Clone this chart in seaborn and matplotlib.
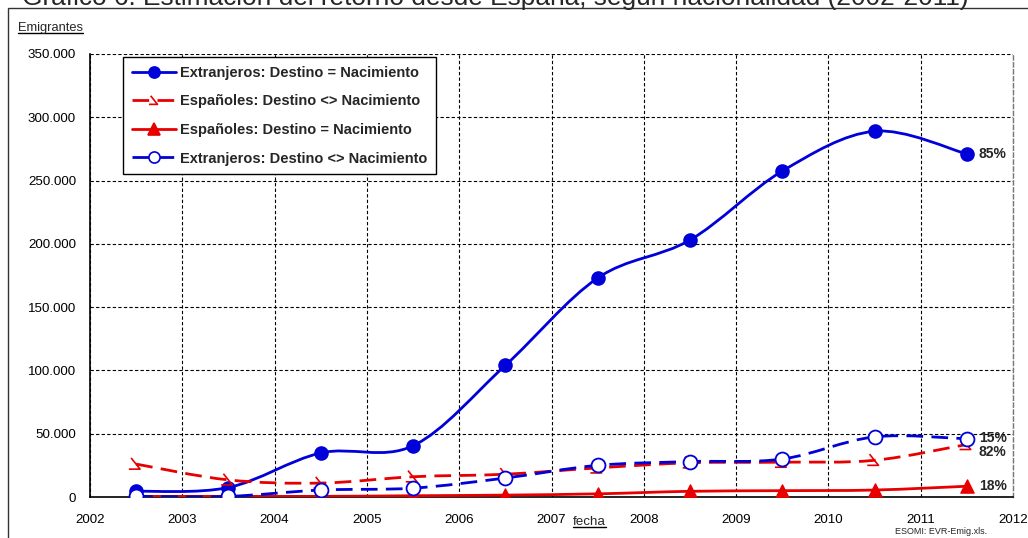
import numpy as np
import pandas as pd
import matplotlib
matplotlib.use("Agg")
import matplotlib.pyplot as plt
from matplotlib.path import Path
from matplotlib.patches import PathPatch, Rectangle
from matplotlib.lines import Line2D
from matplotlib.ticker import FuncFormatter
import seaborn as sns

# data (mid-year points)
years = [2002.5, 2003.5, 2004.5, 2005.5, 2006.5, 2007.5, 2008.5, 2009.5, 2010.5, 2011.5]
ext_igual = [4500, 7500, 34800, 40500, 104000, 173000, 203000, 257500, 289000, 271000]
esp_distinto = [26000, 13500, 11000, 16000, 18000, 23000, 27000, 27500, 29000, 41500]
esp_igual = [500, 500, 500, 1000, 1500, 2500, 4500, 5000, 5500, 8500]
ext_distinto = [500, 500, 5500, 7000, 15000, 25000, 28000, 30000, 47500, 46000]

labels = ["Extranjeros: Destino = Nacimiento",
          "Españoles: Destino <> Nacimiento",
          "Españoles: Destino = Nacimiento",
          "Extranjeros: Destino <> Nacimiento"]
end_labels = ["85%", "82%", "18%", "15%"]

blue = "#0000d8"
red = "#e80000"

sns.set_style("white")
plt.rcParams["font.family"] = ["Liberation Sans", "DejaVu Sans"]

W, H = 1028, 538
fig = plt.figure(figsize=(W / 100, H / 100), dpi=100)
fig.patches.append(Rectangle((8 / W, -0.1), 1.2, 1.1 - 9 / H + 0.001, transform=fig.transFigure,
                             fill=False, edgecolor="#333333", linewidth=1.0))
ax = fig.add_axes([90 / W, 1 - 497 / H, (1013 - 90) / W, (497 - 54) / H])


def smooth_path(xs, ys):
    # excel-like smoothed line: bezier segments, tension 1/6
    pts = np.column_stack([xs, ys]).astype(float)
    ext = np.vstack([pts[0], pts, pts[-1]])
    verts = [pts[0]]
    codes = [Path.MOVETO]
    for i in range(1, len(ext) - 2):
        p0, p1, p2, p3 = ext[i - 1], ext[i], ext[i + 1], ext[i + 2]
        verts += [p1 + (p2 - p0) / 6, p2 - (p3 - p1) / 6, p2]
        codes += [Path.CURVE4] * 3
    return Path(verts, codes)


tri_open = Path([(-0.45, 0.55), (0.35, -0.45), (-0.65, -0.45)], [Path.MOVETO, Path.LINETO, Path.LINETO])

series = [
    (ext_igual, blue, "-", dict(marker="o", s=90, color=blue, edgecolor=blue, linewidth=1)),
    (esp_distinto, red, (0, (6, 3)), dict(marker=tri_open, s=110, facecolor="none", edgecolor=red, linewidth=1.2)),
    (esp_igual, red, "-", dict(marker="^", s=90, color=red, edgecolor=red, linewidth=1)),
    (ext_distinto, blue, (0, (6, 3)), dict(marker="o", s=100, facecolor="white", edgecolor=blue, linewidth=1.3)),
]

for vals, col, ls, mk in series:
    ax.add_patch(PathPatch(smooth_path(years, vals), facecolor="none", edgecolor=col,
                           linewidth=2.0, linestyle=ls, zorder=3))
for vals, col, ls, mk in series:
    df = pd.DataFrame({"anio": years, "valor": vals})
    sns.scatterplot(data=df, x="anio", y="valor", ax=ax, zorder=4, legend=False, **mk)

# end-of-line percentage labels
offsets = [(12, 0), (12, -8), (12, 0), (12, 1)]
for vals, txt, off in zip([s[0] for s in series], end_labels, offsets):
    ax.annotate(txt, (years[-1], vals[-1]), xytext=off, textcoords="offset pixels",
                ha="left", va="center", fontsize=10, fontweight="bold")

ax.set_xlim(2002, 2012)
ax.set_ylim(0, 350000)
ax.set_xticks(range(2002, 2013))
ax.set_yticks(range(0, 350001, 50000))
ax.yaxis.set_major_formatter(FuncFormatter(lambda v, p: f"{int(v):,}".replace(",", ".")))
ax.tick_params(axis="both", labelsize=9.6, length=4, width=1, direction="out", colors="black", pad=6)
ax.tick_params(axis="x", pad=8)
ax.set_xlabel("")
ax.set_ylabel("")
ax.grid(True, color="black", linestyle=(0, (3, 2)), linewidth=0.8)
ax.set_axisbelow(True)
for sp in ["left", "bottom"]:
    ax.spines[sp].set_color("black")
    ax.spines[sp].set_linewidth(1.2)
ax.spines["top"].set_visible(False)
ax.spines["right"].set_color("#777777")
ax.spines["right"].set_linestyle((0, (3, 2)))
ax.spines["right"].set_linewidth(1.0)

handles = []
for vals, col, ls, mk in series:
    fc = mk.get("facecolor", mk.get("color"))
    handles.append(Line2D([], [], color=col, linestyle=ls, linewidth=2.0, marker=mk["marker"],
                          markersize=8, markerfacecolor=fc, markeredgecolor=mk["edgecolor"],
                          markeredgewidth=1.2))
leg = ax.legend(handles, labels, loc="upper left",
                bbox_to_anchor=((123 - 90) / 923, (497 - 57) / 443), borderaxespad=0,
                fancybox=False, framealpha=1, edgecolor="black", handlelength=3.0,
                labelspacing=1.0, handletextpad=0.3, borderpad=0.6,
                prop={"weight": "bold", "size": 10.5})
leg.get_frame().set_linewidth(1.0)
leg.set_zorder(5)

fig.text(22 / W, 1 - 5 / H, "Gráfico 6: Estimación del retorno desde España, según nacionalidad (2002-2011)",
         fontsize=18.9, va="baseline", ha="left")
t1 = fig.text(18 / W, 1 - 28 / H, "Emigrantes", fontsize=9.3, va="center", ha="left")
t2 = fig.text(573 / W, 1 - 522 / H, "fecha", fontsize=9.6, va="center", ha="left")
fig.text(895 / W, 1 - 532 / H, "ESOMI: EVR-Emig.xls.", fontsize=6.5, va="center", ha="left")

# underline the axis titles
fig.canvas.draw()
rend = fig.canvas.get_renderer()
for t in (t1, t2):
    bb = t.get_window_extent(rend).transformed(fig.transFigure.inverted())
    fig.add_artist(Line2D([bb.x0, bb.x1], [bb.y0 + 0.002, bb.y0 + 0.002], color="black",
                          linewidth=1.0, transform=fig.transFigure))

fig.savefig("out.png", dpi=100)
